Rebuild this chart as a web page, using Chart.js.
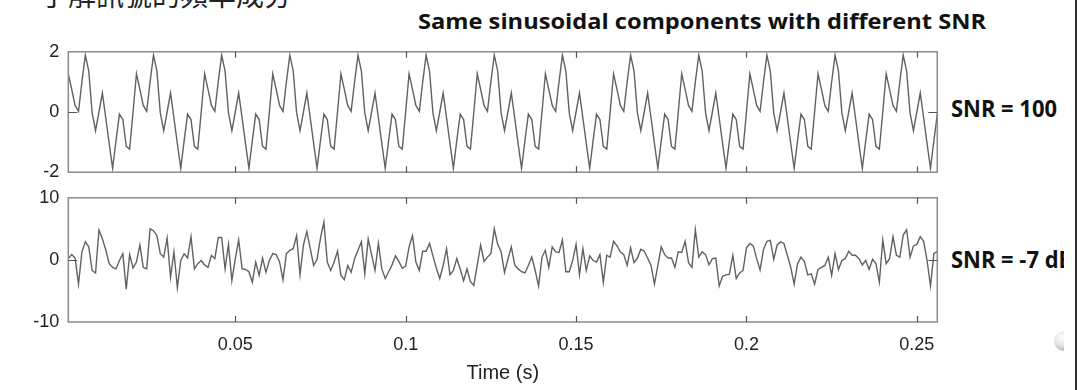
<!DOCTYPE html>
<html>
<head>
<meta charset="utf-8">
<script src="https://cdn.jsdelivr.net/npm/chart.js@4.4.1/dist/chart.umd.min.js"></script>
<style>
  html, body { margin: 0; padding: 0; background: #fff; }
  body { width: 1078px; height: 390px; position: relative; overflow: hidden; }
  canvas { position: absolute; left: 0; }
  .txt { position: absolute; white-space: nowrap; color: #111; }
  #zh { left: 40px; top: -20px; font: 28px/28px "Noto Sans CJK TC", sans-serif; color: #222; }
  #title { left: 418px; top: 6px; font: bold 22px/28px "Open Sans", sans-serif; transform-origin: 0 50%; }
  .snr { font: bold 23px/28px "Open Sans", sans-serif; transform-origin: 0 50%; }
  #clip { position: absolute; left: 940px; top: 0; width: 124px; height: 390px; overflow: hidden; }
  #vline { position: absolute; left: 1075px; top: 0; width: 2px; height: 390px; background: #333; }
  #knob { position: absolute; left: 114px; top: 331px; width: 20px; height: 20px; border-radius: 50%;
          background: radial-gradient(circle at 40% 35%, #ffffff 0%, #e2e2e2 45%, #a9a9a9 85%, #8e8e8e 100%); }
</style>
</head>
<body>
<div id="zh" class="txt">了解訊號的頻率成分</div>
<div id="title" class="txt">Same sinusoidal components with different SNR</div>
<div id="clip">
  <div id="knob"></div>
  <div id="snr1" class="txt snr" style="left:11px; top:94px;">SNR = 100</div>
  <div id="snr2" class="txt snr" style="left:11px; top:245px;">SNR = -7 dB</div>
</div>
<div id="vline"></div>
<canvas id="top" width="1078" height="160" style="top:32px"></canvas>
<canvas id="bottom" width="1078" height="214" style="top:178px"></canvas>
<script>
// sampled at 1 kHz, t = 1 ms ... 256 ms
const sampleRate = 1000;

// clean signal (SNR = 100)
const cleanSignal = [
  1.27, 0.75, 0.22, 0.02, 1.0, 1.89, 1.36, -0.03, -0.62, 0.0, 0.63, -0.2, -1.05, -1.87, -0.95, -0.07, -0.25, -1.14, -1.23, 0.0,
  1.27, 0.75, 0.22, 0.02, 1.0, 1.89, 1.36, -0.03, -0.62, 0.0, 0.63, -0.2, -1.05, -1.87, -0.95, -0.07, -0.25, -1.14, -1.23, 0.0,
  1.27, 0.75, 0.22, 0.02, 1.0, 1.89, 1.36, -0.03, -0.62, 0.0, 0.63, -0.2, -1.05, -1.87, -0.95, -0.07, -0.25, -1.14, -1.23, 0.0,
  1.27, 0.75, 0.22, 0.02, 1.0, 1.89, 1.36, -0.03, -0.62, 0.0, 0.63, -0.2, -1.05, -1.87, -0.95, -0.07, -0.25, -1.14, -1.23, 0.0,
  1.27, 0.75, 0.22, 0.02, 1.0, 1.89, 1.36, -0.03, -0.62, 0.0, 0.63, -0.2, -1.05, -1.87, -0.95, -0.07, -0.25, -1.14, -1.23, 0.0,
  1.27, 0.75, 0.22, 0.02, 1.0, 1.89, 1.36, -0.03, -0.62, 0.0, 0.63, -0.2, -1.05, -1.87, -0.95, -0.07, -0.25, -1.14, -1.23, 0.0,
  1.27, 0.75, 0.22, 0.02, 1.0, 1.89, 1.36, -0.03, -0.62, 0.0, 0.63, -0.2, -1.05, -1.87, -0.95, -0.07, -0.25, -1.14, -1.23, 0.0,
  1.27, 0.75, 0.22, 0.02, 1.0, 1.89, 1.36, -0.03, -0.62, 0.0, 0.63, -0.2, -1.05, -1.87, -0.95, -0.07, -0.25, -1.14, -1.23, 0.0,
  1.27, 0.75, 0.22, 0.02, 1.0, 1.89, 1.36, -0.03, -0.62, 0.0, 0.63, -0.2, -1.05, -1.87, -0.95, -0.07, -0.25, -1.14, -1.23, 0.0,
  1.27, 0.75, 0.22, 0.02, 1.0, 1.89, 1.36, -0.03, -0.62, 0.0, 0.63, -0.2, -1.05, -1.87, -0.95, -0.07, -0.25, -1.14, -1.23, 0.0,
  1.27, 0.75, 0.22, 0.02, 1.0, 1.89, 1.36, -0.03, -0.62, 0.0, 0.63, -0.2, -1.05, -1.87, -0.95, -0.07, -0.25, -1.14, -1.23, 0.0,
  1.27, 0.75, 0.22, 0.02, 1.0, 1.89, 1.36, -0.03, -0.62, 0.0, 0.63, -0.2, -1.05, -1.87, -0.95, -0.07, -0.25, -1.14, -1.23, 0.0,
  1.27, 0.75, 0.22, 0.02, 1.0, 1.89, 1.36, -0.03, -0.62, 0.0, 0.63, -0.2, -1.05, -1.87, -0.95, -0.07
];

// noisy signal (SNR = -7 dB)
const noisySignal = [
  0.2, 0.85, 0.3, -3.9, 1.3, 2.9, 2.1, -1.7, -2.1, 4.8,
  3.4, 1.6, -0.6, -1.2, -1.45, -0.1, 1.0, -4.7, 0.85, -1.3,
  -0.35, 2.4, -1.2, -1.45, 5.0, 4.7, 3.9, 1.0, 0.45, 3.5,
  -2.8, 1.3, -4.45, -0.1, 1.0, 0.3, 3.75, -1.45, -0.6, -0.1,
  -0.8, -1.2, 0.75, 0.2, 3.6, 3.6, -1.45, 2.5, -3.35, 0.2,
  3.2, -1.45, -1.55, -1.9, -3.6, -0.35, -2.5, 0.3, -2.0, -0.1,
  1.0, 0.85, -0.35, -3.2, 1.0, 1.55, 1.8, 3.9, -2.4, 2.4,
  4.55, 1.8, -0.9, 0.1, 3.5, 6.1, -0.35, -1.7, -0.35, 1.4,
  -2.5, -3.2, -0.9, -2.0, 0.2, 1.55, 2.9, -2.25, 3.35, 0.85,
  -1.7, 2.65, -1.45, -3.0, -1.9, -0.8, 0.65, -0.25, -1.35, -1.0,
  2.1, 3.9, -0.35, -1.7, 1.4, 1.4, 2.65, 0.65, -1.35, -3.0,
  -0.9, 1.8, -2.4, -1.7, 0.2, -1.45, -3.35, -1.45, -3.5, -4.1,
  -0.8, 2.4, -0.25, 0.45, 1.0, 5.0, 2.5, 1.3, -2.0, 0.1,
  2.1, -0.8, -1.45, -1.9, -2.1, -0.9, 0.45, -1.7, -4.2, 0.45,
  1.55, -1.2, 2.1, 1.3, 1.2, 3.2, -1.9, -1.9, -0.1, 2.5,
  -2.4, 1.8, -1.7, 0.65, -0.1, -0.35, 0.85, -3.6, 0.75, 0.45,
  3.0, 2.25, 1.3, 0.85, -0.9, 1.95, -0.45, 0.3, 1.7, 1.4,
  0.3, -0.9, -3.9, -0.9, 2.1, 0.85, 0.3, 0.3, -1.2, 1.3,
  1.2, 3.0, -0.45, -1.2, 4.85, 0.45, 1.3, 0.85, -0.8, 0.2,
  0.3, -4.2, -2.65, -2.4, -2.3, 0.75, -3.0, -2.1, -1.7, 1.95,
  2.65, 2.25, 0.2, -1.6, 1.7, 3.0, 3.15, 0.1, 2.4, 2.9,
  2.65, 0.75, -1.2, -3.9, -0.6, 0.45, -0.25, -2.4, -2.25, -3.9,
  -1.55, -1.2, -0.9, 0.45, -2.5, 1.0, -1.55, -0.1, 0.2, 1.4,
  0.75, 0.75, 0.2, -0.8, -0.1, -1.55, 0.1, -0.6, -3.6, 3.2,
  -0.6, 0.2, 3.75, 0.75, 0.45, 4.0, 4.85, 0.45, 2.25, 2.5,
  3.75, 3.0, -0.1, -4.2, 1.0, 1.4
];

const xTicks = [0.05, 0.1, 0.15, 0.2, 0.25];
const xTickLabels = ['0.05', '0.1', '0.15', '0.2', '0.25'];
const yTicksTop = [-2, 0, 2];
const yTicksBottom = [-10, 0, 10];

const time = cleanSignal.map((_, i) => (i + 1) / sampleRate);

// matlab style box with inward ticks
const boxPlugin = {
  id: 'matlabBox',
  afterDatasetsDraw(chart) {
    const { ctx, chartArea: a, scales } = chart;
    const x = scales.x, y = scales.y;
    ctx.save();
    ctx.strokeStyle = '#8a8a8a';
    ctx.lineWidth = 1.5;
    ctx.strokeRect(a.left, a.top, a.width, a.height);
    ctx.strokeStyle = '#555';
    ctx.lineWidth = 1.2;
    ctx.beginPath();
    xTicks.forEach(v => {
      const px = Math.round(x.getPixelForValue(v)) + 0.5;
      ctx.moveTo(px, a.top); ctx.lineTo(px, a.top + 6);
      ctx.moveTo(px, a.bottom); ctx.lineTo(px, a.bottom - 6);
    });
    const py = Math.round(y.getPixelForValue(0)) + 0.5;
    ctx.moveTo(a.left, py); ctx.lineTo(a.left + 9, py);
    ctx.moveTo(a.right, py); ctx.lineTo(a.right - 9, py);
    ctx.stroke();
    ctx.restore();
  }
};

function makeChart(id, values, yMin, yMax, yTicks, showX) {
  return new Chart(document.getElementById(id), {
    type: 'line',
    data: {
      datasets: [{
        data: values.map((v, i) => ({ x: time[i], y: v })),
        borderColor: '#616161',
        borderWidth: 1.4,
        pointRadius: 0,
        tension: 0,
        fill: false
      }]
    },
    options: {
      responsive: false,
      animation: false,
      devicePixelRatio: 1,
      layout: { padding: { left: 0, right: 140.7, top: 10, bottom: showX ? 0 : 10 } },
      plugins: { legend: { display: false }, tooltip: { enabled: false } },
      scales: {
        x: {
          type: 'linear',
          min: 0.001,
          max: 0.256,
          display: showX,
          afterBuildTicks: s => { s.ticks = xTicks.map(v => ({ value: v })); },
          afterFit: s => { s.height = showX ? 70 : 0; },
          grid: { display: false, drawTicks: false },
          border: { display: false },
          ticks: {
            color: '#222',
            padding: 12,
            maxRotation: 0,
            autoSkip: false,
            font: { family: 'Liberation Sans', size: 18 },
            callback: v => xTickLabels[xTicks.indexOf(v)]
          },
          title: {
            display: showX,
            text: 'Time (s)',
            color: '#222',
            font: { family: 'Liberation Sans', size: 20 },
            padding: { top: 0, bottom: 7 }
          }
        },
        y: {
          min: yMin,
          max: yMax,
          afterBuildTicks: s => { s.ticks = yTicks.map(v => ({ value: v })); },
          afterFit: s => { s.width = 68.3; },
          grid: { display: false, drawTicks: false },
          border: { display: false },
          ticks: {
            color: '#222',
            padding: 9,
            autoSkip: false,
            font: { family: 'Liberation Sans', size: 18 }
          }
        }
      }
    },
    plugins: [boxPlugin]
  });
}

makeChart('top', cleanSignal, -2, 2, yTicksTop, false);
makeChart('bottom', noisySignal, -10, 10, yTicksBottom, true);

// stretch headings to the widths seen in the slide
function fit(id, w) {
  const el = document.getElementById(id);
  const r = el.getBoundingClientRect().width;
  el.style.transform = 'scaleX(' + (w / r) + ')';
  return w / r;
}
fit('title', 568);
const k = fit('snr1', 106);
document.getElementById('snr2').style.transform = 'scaleX(' + k + ')';
</script>
</body>
</html>
